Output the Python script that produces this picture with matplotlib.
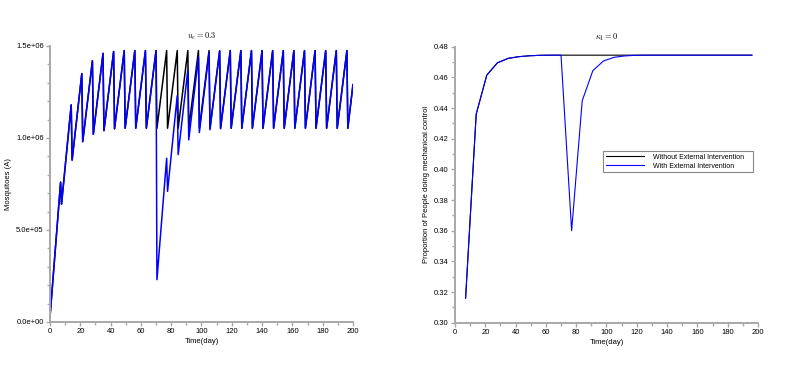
import numpy as np
import matplotlib
matplotlib.use("Agg")
import matplotlib.pyplot as plt
from matplotlib.ticker import MultipleLocator, FuncFormatter

plt.rcParams["mathtext.fontset"] = "cm"
plt.rcParams["font.family"] = ["Liberation Sans", "DejaVu Sans"]

# ---- left panel: mosquitoes (A), sawtooth with a weekly drop ----
peak_days = [7 * k for k in range(1, 29)]   # 7, 14, ..., 196
drop_lag = 0.6
a_start = 0.027e6
a_end = 1.29e6   # value at t=200

peaks_without = [0.76e6, 1.18e6, 1.35e6, 1.42e6, 1.46e6, 1.47e6, 1.475e6, 1.475e6, 1.475e6, 1.475e6] + [1.475e6] * 18
troughs_without = [0.64e6, 0.88e6, 0.98e6, 1.02e6, 1.04e6, 1.05e6, 1.053e6, 1.053e6, 1.053e6, 1.053e6] + [1.053e6] * 18

peaks_with = peaks_without[:10] + [0.89e6, 1.23e6, 1.37e6, 1.44e6, 1.465e6, 1.472e6] + [1.475e6] * 12
troughs_with = troughs_without[:9] + [0.23e6, 0.71e6, 0.91e6, 0.99e6, 1.03e6, 1.045e6, 1.05e6] + [1.053e6] * 12

# ---- right panel: proportion doing mechanical control (weekly samples) ----
prop_days = [7 * k for k in range(1, 29)]
prop_without = [0.316, 0.436, 0.4615, 0.4695, 0.4724, 0.4735, 0.4741, 0.4744, 0.4745, 0.4745] + [0.4745] * 18
prop_with = prop_without[:10] + [0.360, 0.4448, 0.4644, 0.4707, 0.4731, 0.474, 0.4744] + [0.4745] * 11


def sawtooth(peaks, troughs):
    t = [0.0]
    y = [a_start]
    for d, p, tr in zip(peak_days, peaks, troughs):
        t += [d, d + drop_lag]
        y += [p, tr]
    t.append(200)
    y.append(a_end)
    return t, y


def style_axes(ax):
    for s in ["top", "right"]:
        ax.spines[s].set_visible(False)
    for s in ["left", "bottom"]:
        ax.spines[s].set_color("#a8a8a8")
        ax.spines[s].set_linewidth(1.4)
    ax.tick_params(which="both", direction="out", color="#a8a8a8", labelsize=5.5, pad=1.5)
    ax.tick_params(which="major", length=3, width=1)
    ax.tick_params(which="minor", length=2, width=1)


fig = plt.figure(figsize=(8.09, 3.68), dpi=100)

ax1 = fig.add_axes([0.0618, 0.125, 0.3745, 0.75])
t0, y0 = sawtooth(peaks_without, troughs_without)
t1, y1 = sawtooth(peaks_with, troughs_with)
ax1.plot(t0, y0, color="black", lw=1.1)
ax1.plot(t1, y1, color="#0000ff", lw=1.1)
ax1.set_xlim(0, 200)
ax1.set_ylim(0, 1.5e6)
ax1.xaxis.set_major_locator(MultipleLocator(20))
ax1.xaxis.set_minor_locator(MultipleLocator(10))
ax1.yaxis.set_major_locator(MultipleLocator(0.5e6))
ax1.yaxis.set_minor_locator(MultipleLocator(0.1e6))
ax1.yaxis.set_major_formatter(FuncFormatter(lambda v, p: f"{v:.1e}"))
style_axes(ax1)
ax1.set_xlabel("Time(day)", fontsize=5.5, labelpad=2)
ax1.set_ylabel("Mosquitoes (A)", fontsize=5.5)
ax1.yaxis.set_label_coords(-0.125, 0.5)
ax1.set_title(r"$u_c = 0.3$", fontsize=6, pad=5)

ax2 = fig.add_axes([0.5624, 0.123, 0.3745, 0.75])
ax2.plot(prop_days, prop_without, color="black", lw=0.8, label="Without External Intervention")
ax2.plot(prop_days, prop_with, color="#0000ff", lw=0.8, label="With External Intervention")
ax2.set_xlim(0, 200)
ax2.set_ylim(0.30, 0.48)
ax2.xaxis.set_major_locator(MultipleLocator(20))
ax2.xaxis.set_minor_locator(MultipleLocator(10))
ax2.yaxis.set_major_locator(MultipleLocator(0.02))
ax2.yaxis.set_minor_locator(MultipleLocator(0.01))
ax2.yaxis.set_major_formatter(FuncFormatter(lambda v, p: f"{v:.2f}"))
style_axes(ax2)
ax2.set_xlabel("Time(day)", fontsize=5.5, labelpad=2)
ax2.set_ylabel("Proportion of People doing mechanical control", fontsize=5.5)
ax2.yaxis.set_label_coords(-0.082, 0.5)
ax2.set_title(r"$\kappa_1 = 0$", fontsize=6, pad=5)
leg = ax2.legend(loc="upper left", bbox_to_anchor=(0.49, 0.535, 0.495, 0.088), mode="expand",
                 fontsize=5, fancybox=False, framealpha=1, edgecolor="#888888",
                 handlelength=5.5, handletextpad=1.2, borderpad=0.4, labelspacing=0.3,
                 borderaxespad=0)
leg.get_frame().set_linewidth(0.8)

fig.savefig("out.png", dpi=100)
